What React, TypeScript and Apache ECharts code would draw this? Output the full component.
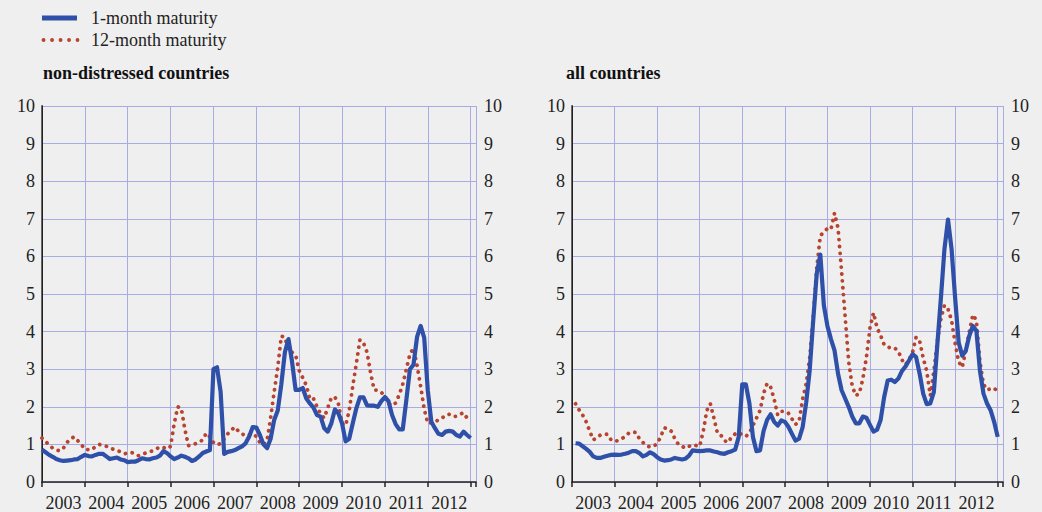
import React, { useEffect, useRef } from "react";
import * as echarts from "echarts";

// month index 0 = Jan 2003 ... 120 = Jan 2013
const years = ["2003", "2004", "2005", "2006", "2007", "2008", "2009", "2010", "2011", "2012"];
const yTicks = [0, 1, 2, 3, 4, 5, 6, 7, 8, 9, 10];

const ndShort = [
  0.86, 0.79, 0.72, 0.67, 0.61, 0.58, 0.56, 0.57, 0.58, 0.6, 0.61, 0.67,
  0.72, 0.69, 0.68, 0.72, 0.75, 0.75, 0.68, 0.61, 0.63, 0.65, 0.6, 0.58,
  0.53, 0.54, 0.54, 0.58, 0.63, 0.61, 0.6, 0.63, 0.65, 0.7, 0.82, 0.77,
  0.68, 0.61, 0.65, 0.7, 0.67, 0.63, 0.56, 0.6, 0.68, 0.77, 0.81, 0.85,
  3.0, 3.05, 2.4, 0.75, 0.8, 0.82, 0.85, 0.9, 0.95, 1.03, 1.21, 1.46,
  1.45, 1.25, 1.0, 0.9, 1.15, 1.65, 1.9, 2.6, 3.45, 3.8, 3.2, 2.45,
  2.45, 2.5, 2.22, 2.09, 1.98, 1.78, 1.74, 1.43, 1.34, 1.56, 1.93, 1.82,
  1.56, 1.08, 1.15, 1.56, 1.96, 2.25, 2.25, 2.04, 2.03, 2.03, 2.0, 2.15,
  2.26, 2.15, 1.78, 1.54, 1.4, 1.4, 2.18, 3.0, 3.12, 3.86, 4.15, 3.84,
  2.44, 1.6, 1.43, 1.28, 1.25, 1.34, 1.36, 1.34, 1.25, 1.21, 1.34, 1.25, 1.17,
];

const ndLong = [
  1.17, 1.08, 0.98, 0.9, 0.85, 0.83, 0.9, 1.05, 1.15, 1.2, 1.1, 1.0,
  0.87, 0.86, 0.86, 0.95, 1.0, 0.98, 0.95, 0.9, 0.87, 0.84, 0.8, 0.75,
  0.77, 0.79, 0.75, 0.7, 0.73, 0.77, 0.8, 0.83, 0.88, 0.93, 0.92, 0.88,
  0.95, 1.55, 2.0, 1.96, 1.4, 0.97, 0.98, 1.02, 1.06, 1.12, 1.3, 1.2,
  1.05, 0.99, 1.02, 1.15, 1.28, 1.38, 1.46, 1.35, 1.28, 1.23, 1.25, 1.28,
  1.21, 1.05, 0.99, 1.1, 1.7, 2.4, 3.05, 3.88, 3.85, 3.49, 3.45, 3.38,
  2.96, 2.77, 2.57, 2.2, 2.22, 2.0, 1.81, 1.7, 1.97, 2.24, 2.26, 2.07,
  1.55, 1.5, 1.9, 2.55, 3.15, 3.78, 3.7, 3.45, 2.9, 2.45, 2.44, 2.38,
  2.3, 2.09, 2.03, 2.1, 2.32, 2.6, 3.0, 3.4, 3.56, 3.1, 2.55, 1.94,
  1.56, 1.58, 1.6, 1.65, 1.7, 1.78, 1.8, 1.74, 1.75, 1.8, 1.84, 1.7, 1.65,
];

const allShort = [
  null, 1.03, 1.02, 0.95, 0.88, 0.8, 0.68, 0.64, 0.64, 0.67, 0.7, 0.72,
  0.73, 0.72, 0.73, 0.75, 0.78, 0.82, 0.82, 0.77, 0.68, 0.72, 0.79, 0.74,
  0.66, 0.6, 0.57, 0.58, 0.6, 0.64, 0.62, 0.6, 0.62, 0.7, 0.84, 0.83,
  0.82, 0.83, 0.84, 0.84, 0.81, 0.79, 0.76, 0.75, 0.79, 0.82, 0.86, 1.2,
  2.6, 2.6, 2.1, 1.2, 0.82, 0.84, 1.35, 1.65, 1.8, 1.6, 1.5, 1.64,
  1.6, 1.47, 1.28, 1.1, 1.15, 1.45, 2.1, 2.96, 4.3, 5.55, 6.05, 4.7,
  4.15, 3.8, 3.5, 2.88, 2.44, 2.22, 2.0, 1.74, 1.56, 1.56, 1.74, 1.71,
  1.52, 1.34, 1.39, 1.65, 2.26, 2.7, 2.72, 2.66, 2.75, 2.95, 3.07, 3.23,
  3.4, 3.32, 2.88, 2.35, 2.07, 2.09, 2.39, 3.67, 4.9, 6.2, 6.98, 6.2,
  4.9, 3.71, 3.36, 3.49, 3.89, 4.15, 4.02, 2.96, 2.35, 2.09, 1.91, 1.6, 1.2,
];

const allLong = [
  null, 2.08, 1.92, 1.78, 1.6, 1.35, 1.12, 1.18, 1.25, 1.27, 1.27, 1.12,
  1.08, 1.1, 1.15, 1.21, 1.3, 1.33, 1.32, 1.15, 1.05, 0.97, 0.93, 0.95,
  1.02, 1.2, 1.44, 1.42, 1.35, 1.15, 1.0, 0.95, 0.9, 0.95, 0.99, 0.97,
  0.95, 1.35, 1.9, 2.08, 1.7, 1.3, 1.24, 1.1, 1.05, 1.2, 1.28, 1.32,
  1.25, 1.21, 1.3, 1.5, 1.7, 1.9, 2.35, 2.62, 2.52, 2.2, 1.78, 1.88,
  1.88, 1.83, 1.68, 1.53, 1.6, 2.2, 2.6, 3.3, 4.4, 5.7, 6.55, 6.65,
  6.74, 6.72, 7.15, 6.75, 5.6, 4.4, 3.2, 2.55, 2.3, 2.35, 2.75, 3.32,
  4.1, 4.5, 4.1, 3.9, 3.65, 3.6, 3.55, 3.56, 3.48, 3.25, 3.12, 3.25,
  3.45, 3.85, 3.75, 3.3, 2.95, 2.3, 2.95, 3.75, 4.35, 4.7, 4.6, 4.3,
  3.7, 3.2, 3.05, 3.5, 4.0, 4.45, 4.3, 3.2, 2.6, 2.45, 2.48, 2.5, 2.4,
];

const FONT = "Liberation Serif";
const BLUE = "#2f50a8";
const RED = "#b8432f";
const GRID_C = "#a7abe6";
const BG = "#efefef";

const toPairs = (arr: (number | null)[]) => arr.map((v, i) => [i, v]);

function xAxes(gridIndex: number) {
  return [
    {
      type: "value",
      gridIndex,
      min: 0,
      max: 121.5,
      interval: 12,
      position: "bottom",
      axisLine: { show: true, onZero: false, lineStyle: { color: "#222", width: 1.5 } },
      axisTick: { show: true, length: 5, lineStyle: { color: "#222", width: 1.5 } },
      axisLabel: { show: false },
      splitLine: { show: true, lineStyle: { color: GRID_C, width: 1 } },
    },
    {
      type: "value",
      gridIndex,
      min: 0,
      max: 121.5,
      interval: 6,
      position: "bottom",
      axisLine: { show: false },
      axisTick: { show: false },
      splitLine: { show: false },
      axisLabel: {
        show: true,
        margin: 12,
        fontFamily: FONT,
        fontSize: 18,
        color: "#222",
        showMinLabel: false,
        formatter: (v: number) => (v % 12 === 6 ? years[(v - 6) / 12] ?? "" : ""),
      },
    },
  ];
}

function yAxes(gridIndex: number) {
  const base = {
    type: "value",
    gridIndex,
    min: yTicks[0],
    max: yTicks[yTicks.length - 1],
    interval: 1,
    axisTick: { show: false },
  };
  return [
    {
      ...base,
      position: "left",
      axisLine: { show: true, lineStyle: { color: "#666", width: 2 } },
      axisLabel: { fontFamily: FONT, fontSize: 18, color: "#222", margin: 7 },
      splitLine: { show: true, lineStyle: { color: GRID_C, width: 1 } },
    },
    {
      ...base,
      position: "right",
      axisLine: { show: true, lineStyle: { color: "#222", width: 1 } },
      axisLabel: { fontFamily: FONT, fontSize: 18, color: "#222", margin: 8 },
      splitLine: { show: false },
    },
  ];
}

function lineSeries(name: string, data: (number | null)[], xi: number, yi: number, dotted: boolean) {
  return {
    type: "line",
    name,
    xAxisIndex: xi,
    yAxisIndex: yi,
    data: toPairs(data),
    showSymbol: false,
    symbol: "none",
    connectNulls: false,
    lineStyle: dotted
      ? { color: RED, width: 3.8, type: [0.1, 6.8], cap: "round" }
      : { color: BLUE, width: 4.2, join: "round" },
    z: dotted ? 3 : 4,
  };
}

export default function App() {
  const ref = useRef<HTMLDivElement>(null);

  useEffect(() => {
    document.body.style.margin = "0";
    document.body.style.background = BG;
    const chart = echarts.init(ref.current!, undefined, { renderer: "svg" });
    chart.setOption({
      animation: false,
      backgroundColor: BG,
      grid: [
        { left: 42, top: 106, width: 434, height: 380 },
        { left: 572, top: 106, width: 431, height: 380 },
      ],
      xAxis: [...xAxes(0), ...xAxes(1)],
      yAxis: [...yAxes(0), ...yAxes(1)],
      series: [
        lineSeries("12-month maturity", ndLong, 0, 0, true),
        lineSeries("1-month maturity", ndShort, 0, 0, false),
        lineSeries("12-month maturity", allLong, 2, 2, true),
        lineSeries("1-month maturity", allShort, 2, 2, false),
      ],
      graphic: [
        {
          type: "line",
          shape: { x1: 42, y1: 18, x2: 77, y2: 18 },
          style: { stroke: BLUE, lineWidth: 5 },
        },
        {
          type: "text",
          x: 91,
          y: 18,
          style: { text: "1-month maturity", fontFamily: FONT, fontSize: 18, fill: "#222", verticalAlign: "middle" },
        },
        {
          type: "line",
          shape: { x1: 43.5, y1: 40, x2: 77.5, y2: 40 },
          style: { stroke: RED, lineWidth: 3.8, lineDash: [0.1, 8.4], lineCap: "round" },
        },
        {
          type: "text",
          x: 91,
          y: 40,
          style: { text: "12-month maturity", fontFamily: FONT, fontSize: 18, fill: "#222", verticalAlign: "middle" },
        },
        {
          type: "text",
          x: 43,
          y: 73,
          style: { text: "non-distressed countries", fontFamily: FONT, fontSize: 18, fontWeight: "bold", fill: "#111", verticalAlign: "middle" },
        },
        {
          type: "text",
          x: 566,
          y: 73,
          style: { text: "all countries", fontFamily: FONT, fontSize: 18, fontWeight: "bold", fill: "#111", verticalAlign: "middle" },
        },
      ],
    });
    return () => chart.dispose();
  }, []);

  return (
    <div
      ref={ref}
      style={{ position: "absolute", left: 0, top: 0, width: 1042, height: 512, background: BG }}
    />
  );
}
